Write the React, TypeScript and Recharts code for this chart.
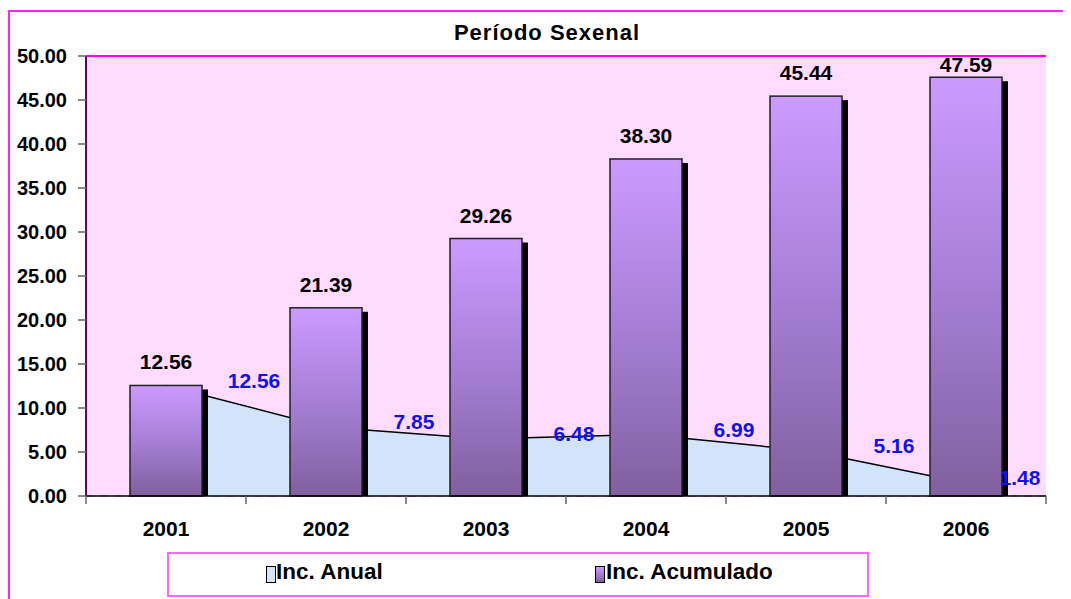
import {
  Area,
  Bar,
  CartesianGrid,
  ComposedChart,
  LabelList,
  ReferenceLine,
  XAxis,
  YAxis,
} from "recharts";

const years = ["2001", "2002", "2003", "2004", "2005", "2006"];
const incAnual = [12.56, 7.85, 6.48, 6.99, 5.16, 1.48];
const incAcumulado = [12.56, 21.39, 29.26, 38.3, 45.44, 47.59];
const yTicks = [0, 5, 10, 15, 20, 25, 30, 35, 40, 45, 50];

const data = years.map((year, i) => ({
  year,
  anual: incAnual[i],
  acumulado: incAcumulado[i],
}));

const W = 1063;
const H = 591;
const X_AXIS_H = 30;
const M = { top: 48, right: 25, bottom: 103 - X_AXIS_H, left: 0 };
const PLOT_TOP = M.top;
const PLOT_RIGHT = W - M.right;
const FONT = "'Liberation Sans', Arial, sans-serif";

if (typeof document !== "undefined") {
  document.body.style.overflow = "hidden";
}

const ShadowBar = (props: any) => {
  const { x, y, width, height } = props;
  if (!height || height <= 0) return null;
  return (
    <g>
      <rect x={x + 6} y={y + 4} width={width} height={Math.max(height - 4, 0)} fill="#000" />
      <rect x={x} y={y} width={width} height={height} fill="url(#barGrad)" stroke="#222" strokeWidth={1.5} />
    </g>
  );
};

const AcumLabel = (props: any) => {
  const { x, y, width, value } = props;
  const by = Math.max(y - 16, PLOT_TOP + 16);
  return (
    <text x={x + width / 2} y={by} textAnchor="middle" fontFamily={FONT} fontWeight="bold" fontSize={21} fill="#000">
      {Number(value).toFixed(2)}
    </text>
  );
};

const AnualLabel = (props: any) => {
  const { x, y, value } = props;
  const lx = Math.min(x + 88, PLOT_RIGHT - 26);
  return (
    <text x={lx} y={y - 5} textAnchor="middle" dominantBaseline="central" fontFamily={FONT} fontWeight="bold" fontSize={21} fill="#1010F0">
      {Number(value).toFixed(2)}
    </text>
  );
};

const XTick = (props: any) => {
  const { x, y, payload, index } = props;
  const half = payload && payload.offset ? payload.offset : 80;
  return (
    <g>
      <line x1={x - half} x2={x - half} y1={y} y2={y + 8} stroke="#666" strokeWidth={1.5} />
      {index === years.length - 1 && (
        <line x1={x + half} x2={x + half} y1={y} y2={y + 8} stroke="#666" strokeWidth={1.5} />
      )}
      <text x={x} y={y + 32} textAnchor="middle" dominantBaseline="central" fontFamily={FONT} fontWeight="bold" fontSize={21} fill="#000">
        {payload.value}
      </text>
    </g>
  );
};

export default function App() {
  return (
    <div style={{ position: "relative", width: W, height: H, overflow: "hidden", fontFamily: FONT }}>
      <div
        style={{
          position: "absolute",
          left: 0,
          top: 2,
          width: W + 40,
          height: H + 40,
          borderTop: "2px solid #FF22FF",
          borderLeft: "2px solid #FF22FF",
        }}
      />
      <div
        style={{
          position: "absolute",
          left: 0,
          width: 1078,
          top: 12,
          textAlign: "center",
          fontWeight: "bold",
          fontSize: 22,
          letterSpacing: 1,
          color: "#000",
        }}
      >
        Período Sexenal
      </div>
      <div style={{ position: "absolute", left: 0, top: 0 }}>
        <ComposedChart width={W} height={H} data={data} margin={M} barSize={72}>
          <defs>
            <linearGradient id="barGrad" x1="0" y1="0" x2="0" y2="1">
              <stop offset="0%" stopColor="#CC9AFF" />
              <stop offset="50%" stopColor="#A67FD6" />
              <stop offset="100%" stopColor="#80609E" />
            </linearGradient>
          </defs>
          <CartesianGrid vertical={false} stroke="#FF33FF" strokeDasharray="8 6" fill="#FFDCFF" fillOpacity={1} />
          <XAxis
            dataKey="year"
            height={X_AXIS_H}
            axisLine={{ stroke: "#000", strokeWidth: 1.5 }}
            tickLine={false}
            tickSize={0}
            tickMargin={0}
            tick={<XTick />}
            interval={0}
          />
          <YAxis
            yAxisId="left"
            domain={[0, 50]}
            ticks={yTicks}
            width={78}
            tickSize={8}
            tickMargin={11}
            tickLine={{ stroke: "#666", strokeWidth: 1.5 }}
            axisLine={{ stroke: "#660066", strokeWidth: 2 }}
            tickFormatter={(v: number) => v.toFixed(2)}
            tick={{ fontFamily: FONT, fontWeight: "bold", fontSize: 20, fill: "#000" }}
          />
          <YAxis
            yAxisId="right"
            orientation="right"
            domain={[0, 50]}
            width={0}
            tick={false}
            tickLine={false}
            axisLine={{ stroke: "#FF00FF", strokeWidth: 2 }}
          />
          <ReferenceLine yAxisId="left" y={50} stroke="#FF00FF" strokeWidth={2} />
          <Area
            yAxisId="left"
            type="linear"
            dataKey="anual"
            fill="#D3E3F9"
            fillOpacity={1}
            stroke="#000"
            strokeWidth={1.5}
            dot={false}
            activeDot={false}
            isAnimationActive={false}
          >
            <LabelList dataKey="anual" content={<AnualLabel />} />
          </Area>
          <Bar yAxisId="left" dataKey="acumulado" shape={<ShadowBar />} isAnimationActive={false}>
            <LabelList dataKey="acumulado" content={<AcumLabel />} />
          </Bar>
        </ComposedChart>
      </div>
      <div
        style={{
          position: "absolute",
          left: 159,
          top: 544,
          width: 698,
          height: 41,
          border: "2px solid #FF66FF",
          background: "#fff",
        }}
      >
        <div style={{ position: "absolute", left: 97, top: 12, width: 8, height: 15, background: "#D3E3F9", border: "1px solid #000" }} />
        <div style={{ position: "absolute", left: 107, top: 5, fontWeight: "bold", fontSize: 22.5, color: "#000" }}>Inc. Anual</div>
        <div
          style={{
            position: "absolute",
            left: 426,
            top: 12,
            width: 8,
            height: 15,
            background: "linear-gradient(#CC9AFF, #80609E)",
            border: "1px solid #000",
          }}
        />
        <div style={{ position: "absolute", left: 437, top: 5, fontWeight: "bold", fontSize: 22.5, color: "#000" }}>Inc. Acumulado</div>
      </div>
    </div>
  );
}
